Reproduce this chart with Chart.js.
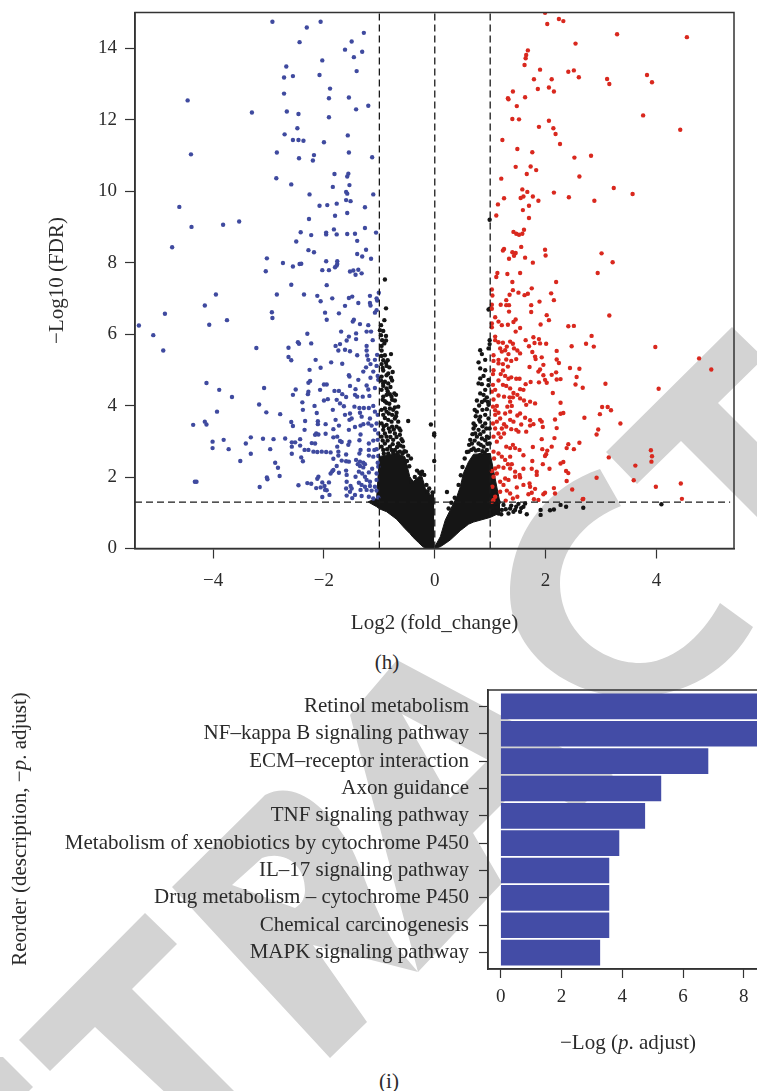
<!DOCTYPE html>
<html>
<head>
<meta charset="utf-8">
<script src="https://cdn.jsdelivr.net/npm/chart.js@4"></script>
<style>
html, body { margin: 0; padding: 0; width: 757px; height: 1091px; overflow: hidden; background: #fff; }
canvas, svg { position: absolute; left: 0; }
.cap { position: absolute; font: 21px "Liberation Serif", serif; color: #2b2b2b; transform: translateX(-50%); }
</style>
</head>
<body>
<svg width="757" height="1091" style="top:0">
  <g fill="#d3d3d3" fill-rule="evenodd">
    <path d="M0,1057 L3,1057 L33,1087 L29,1091 L0,1091 Z"/>
    <path d="M19,1040 L145,913 L177,944 L132,989 L240,1097 L170,1097 L95,1027 L50,1071 Z"/>
    <path d="M172,887 L265,795 C295,780 325,805 350,845 C365,875 372,905 395,945 L418,972 L313,945 L367,1022 L330,1058 Z M232,885 L262,858 C285,850 305,865 305,890 C305,900 300,905 295,908 Z"/>
    <path d="M397,660 L613,775 L579,809 L526,780 L473,833 L502,883 L418,972 L350,715 Z M402,714 L488,760 L450,798 Z"/>
    <path d="M600,469 C540,490 510,540 510,593 C510,650 565,697 632,697 C685,697 730,670 753,627 L720,603 C700,640 670,663 640,663 C600,663 560,630 560,583 C560,550 585,520 621,506 Z"/>
    <path d="M606,452 L732,327 L764,358 L718,403 L830,515 L830,590 L681,441 L637,484 Z"/>
  </g>
</svg>
<canvas id="volcano" width="757" height="640" style="top:0"></canvas>
<canvas id="bars" width="800" height="380" style="top:680px"></canvas>
<div class="cap" style="left:387px;top:650px">(h)</div>
<div class="cap" style="left:389px;top:1069px">(i)</div>
<script>
// volcano values as [log2 fold change, -log10 FDR]
const bluePoints = [
[-2.93,14.74],[-2.31,14.58],[-2.06,14.74],[-1.28,14.43],[-2.44,14.17],[-1.50,14.19],[-1.62,13.96],[-1.31,13.90],[-1.46,13.75],[-2.03,13.66],
[-2.68,13.49],[-1.41,13.36],[-2.72,13.18],[-2.56,13.22],[-2.08,13.25],[-1.89,12.87],[-2.72,12.73],[-1.91,12.60],[-1.55,12.62],[-4.46,12.54],
[-1.42,12.29],[-1.20,12.39],[-3.30,12.20],[-2.67,12.23],[-2.46,12.16],[-1.91,12.07],[-2.48,11.76],[-2.71,11.59],[-1.57,11.56],[-2.56,11.43],
[-2.46,11.43],[-2.37,11.41],[-2.00,11.37],[-2.85,11.08],[-1.55,11.08],[-2.18,11.01],[-4.40,11.03],[-1.13,10.95],[-2.45,10.92],[-2.20,10.86],
[-1.81,10.48],[-1.56,10.49],[-1.58,10.41],[-2.86,10.36],[-2.59,10.19],[-1.54,10.17],[-1.84,10.12],[-1.60,9.98],[-1.58,9.93],[-2.26,9.91],
[-1.11,9.91],[-1.60,9.75],[-1.52,9.72],[-1.77,9.65],[-1.94,9.61],[-2.08,9.59],[-4.61,9.56],[-1.26,9.55],[-1.58,9.39],[-1.80,9.31],
[-2.27,9.22],[-3.53,9.15],[-3.82,9.06],[-4.39,9.00],[-1.26,8.97],[-1.82,8.93],[-2.42,8.85],[-1.96,8.84],[-1.96,8.79],[-1.77,8.79],
[-1.58,8.80],[-1.44,8.81],[-1.06,8.84],[-2.23,8.77],[-1.40,8.61],[-2.50,8.59],[-4.74,8.43],[-1.24,8.36],[-2.28,8.35],[-2.18,8.29],
[-1.40,8.24],[-1.31,8.17],[-1.15,8.11],[-3.03,8.12],[-1.96,8.04],[-1.76,8.04],[-2.74,7.99],[-2.44,7.96],[-2.41,7.97],[-1.76,7.96],
[-1.77,7.92],[-1.80,7.87],[-2.56,7.89],[-3.05,7.76],[-2.03,7.79],[-1.91,7.79],[-1.53,7.75],[-1.47,7.78],[-1.38,7.80],[-1.43,7.66],
[-1.32,7.70],[-2.59,7.38],[-1.95,7.37],
[-3.95,7.11],[-2.85,7.11],[-2.36,7.11],[-2.12,7.07],[-1.85,7.00],[-1.55,7.01],[-1.49,7.05],[-1.17,7.07],[-1.01,7.16],[-1.05,7.00],
[-1.04,6.94],[-2.06,6.92],[-1.38,6.87],[-1.17,6.87],[-1.16,6.80],[-1.62,6.79],[-4.15,6.80],[-4.87,6.57],[-2.94,6.61],[-2.93,6.45],
[-1.98,6.60],[-1.73,6.58],[-1.95,6.40],[-1.05,6.67],[-1.08,6.60],[-1.46,6.40],[-1.48,6.35],[-1.35,6.28],[-3.75,6.39],[-4.07,6.26],
[-5.34,6.24],[-1.20,6.25],[-5.08,5.97],[-1.69,6.07],[-1.23,6.07],[-1.15,6.07],[-2.30,6.01],[-1.42,6.02],[-1.42,5.86],[-1.55,5.93],
[-1.59,5.82],[-1.12,5.83],[-2.47,5.77],[-2.45,5.73],[-2.23,5.74],[-1.71,5.72],[-1.79,5.67],[-1.23,5.67],[-2.64,5.62],[-3.22,5.61],
[-4.90,5.54],[-1.74,5.54],[-1.62,5.56],[-1.53,5.52],[-1.23,5.54],[-1.40,5.41],[-1.22,5.40],[-1.04,5.42],[-2.64,5.36],[-2.59,5.27],
[-2.15,5.28],[-1.87,5.21],[-1.67,5.17],[-1.20,5.28],[-1.16,5.16],[-1.08,5.28],[-1.05,5.11],[-2.06,5.06],[-2.26,5.00],[-1.24,5.07],
[-1.29,4.95],[-1.11,4.95],[-1.55,4.85],[-1.54,4.81],[-1.16,4.78],[-1.03,4.83],[-1.38,4.72],[-2.25,4.69],[-2.28,4.64],[-4.12,4.63],
[-1.02,4.72],[-2.00,4.59],[-1.95,4.59],[-1.53,4.55],[-1.23,4.56],[-1.20,4.45],[-1.43,4.46],[-1.08,4.49],[-3.08,4.49],[-2.51,4.45],
[-2.07,4.44],[-3.89,4.44],[-1.81,4.41],[-1.73,4.41],[-2.28,4.39],[-2.29,4.32],[-2.56,4.30],[-1.67,4.32],[-1.44,4.30],[-1.60,4.24],
[-1.40,4.25],[-1.30,4.25],[-1.18,4.27],[-3.66,4.24],[-1.93,4.18],[-2.00,4.14],[-1.77,4.16],[-2.39,4.09],[-1.71,4.06],[-3.17,4.03],
[-2.17,3.99],[-1.64,3.98],[-1.45,3.97],[-1.36,3.93],[-1.28,3.93],[-1.19,3.93],[-1.11,3.99],[-2.38,3.88],[-3.93,3.83],[-3.04,3.81],
[-1.84,3.88],[-2.13,3.79],[-2.79,3.76],[-1.53,3.78],[-1.35,3.80],[-1.08,3.83],[-1.03,3.74],[-1.62,3.74],[-1.50,3.64],[-1.54,3.60],
[-1.79,3.60],[-1.32,3.69],[-1.17,3.64],[-2.34,3.57],[-2.11,3.56],[-2.59,3.54],[-4.15,3.55],[-2.11,3.48],[-1.97,3.48],[-1.73,3.44],
[-4.12,3.47],[-4.36,3.46],[-2.56,3.43],[-1.20,3.50],[-1.29,3.48],[-1.44,3.40],[-1.34,3.44],[-1.14,3.44],[-1.05,3.50],[-1.55,3.32],
[-2.35,3.32],[-1.83,3.34],[-1.08,3.32],[-2.14,3.22],[-2.16,3.18],[-2.10,3.19],[-1.97,3.21],[-1.34,3.19],[-1.02,3.22],[-3.32,3.11],
[-3.10,3.07],[-2.91,3.06],[-2.70,3.08],[-2.43,3.06],[-3.81,3.04],[-1.76,3.13],[-1.83,3.11],[-1.71,3.01],[-1.68,2.98],[-4.01,2.99],
[-2.58,2.97],[-2.52,2.97],[-3.41,2.94],[-2.22,2.95],[-2.16,2.94],[-1.54,2.99],[-1.36,3.03],[-1.19,2.94],[-1.11,3.02],[-1.03,3.04],
[-2.43,2.88],[-2.58,2.85],[-4.01,2.81],[-1.56,2.90],[-1.76,2.85],[-3.72,2.78],[-2.97,2.78],[-2.35,2.76],[-2.28,2.76],[-2.19,2.71],
[-2.12,2.70],[-2.04,2.71],[-1.96,2.70],[-1.88,2.69],[-1.74,2.71],[-1.34,2.76],[-1.36,2.66],[-1.19,2.76],[-1.09,2.76],[-1.05,2.78],
[-3.32,2.65],[-2.58,2.65],[-1.74,2.60],[-1.60,2.63],[-1.19,2.60],[-1.11,2.57],[-1.02,2.59],[-2.41,2.55],[-2.38,2.44],[-3.51,2.45],
[-1.83,2.51],[-1.68,2.46],[-1.60,2.44],[-1.55,2.43],[-1.42,2.48],[-1.35,2.43],[-1.29,2.40],[-1.03,2.40],[-2.88,2.40],[-1.39,2.36],
[-1.77,2.31],[-2.83,2.26],[-1.35,2.31],[-1.26,2.36],[-1.13,2.23],[-1.02,2.29],[-1.29,2.27],[-1.83,2.20],[-1.85,2.16],[-1.88,2.10],
[-1.73,2.12],[-1.60,2.18],[-1.59,2.06],[-1.37,2.15],[-1.31,2.10],[-1.19,2.13],[-1.05,2.10],[-2.80,2.03],[-3.03,1.99],[-3.02,1.94],
[-2.10,2.01],[-2.12,1.95],[-4.33,1.87],[-4.30,1.87],[-1.59,1.87],[-1.43,2.01],[-1.26,2.01],[-1.23,1.92],[-1.17,1.87],[-1.05,1.92],
[-2.30,1.83],[-2.23,1.81],[-2.03,1.85],[-1.91,1.85],[-3.16,1.72],[-2.46,1.77],[-2.14,1.69],[-2.06,1.71],[-1.99,1.75],[-1.98,1.64],
[-1.95,1.63],[-1.52,1.75],[-1.37,1.84],[-1.32,1.78],[-1.26,1.73],[-1.17,1.75],[-1.08,1.73],[-1.60,1.68],[-1.50,1.68],[-1.34,1.64],
[-1.23,1.64],[-1.14,1.62],[-1.05,1.62],[-1.59,1.48],[-1.90,1.50],[-2.03,1.44],[-1.49,1.41],[-1.44,1.50],[-1.32,1.47],[-1.19,1.45],
[-1.11,1.40],[-1.02,1.43],[-1.53,1.59]
];
const redPoints = [
[1.99,14.99],[2.24,14.82],[2.32,14.76],[2.03,14.68],[3.29,14.39],[4.55,14.31],[2.54,14.13],[1.68,13.94],[1.65,13.81],[1.64,13.72],
[1.62,13.53],[1.90,13.40],[2.41,13.34],[2.51,13.38],[2.60,13.19],[1.79,13.13],[2.11,13.13],[3.11,13.14],[3.83,13.25],[3.92,13.05],
[3.15,13.00],[1.86,12.86],[2.06,12.90],[2.15,12.79],[1.41,12.79],[1.63,12.63],[1.32,12.60],[1.33,12.57],[1.48,12.38],[3.76,12.12],
[1.40,12.02],[1.52,12.01],[2.06,11.97],[1.88,11.80],[2.14,11.76],[4.43,11.72],[2.18,11.60],[1.22,11.43],[2.26,11.32],[1.49,11.18],
[1.76,11.09],[2.82,10.99],[2.52,10.94],[1.46,10.68],[1.73,10.69],[1.83,10.59],[1.66,10.48],[2.61,10.41],[1.20,10.35],[3.23,10.09],
[1.58,10.05],[1.67,9.98],[2.15,9.96],[3.57,9.92],[1.60,9.85],[1.55,9.81],[1.77,9.85],[2.42,9.83],[1.25,9.80],[2.88,9.73],
[1.87,9.73],[1.14,9.63],[1.70,9.59],[1.59,9.47],[1.11,9.32],[1.70,9.25],[1.61,8.92],[1.42,8.86],[1.47,8.81],[1.52,8.78],
[1.58,8.81],[1.56,8.44],[1.25,8.38],[1.23,8.34],[1.99,8.36],[1.40,8.29],[1.46,8.27],[1.43,8.19],[2.00,8.20],[3.01,8.26],
[1.34,8.11],[1.63,8.14],[1.77,8.00],[3.21,8.01],[1.13,7.71],[1.31,7.68],[1.54,7.71],[2.94,7.71],[1.11,7.60],[1.40,7.46],
[2.19,7.46],[1.75,7.28],[1.03,7.25],[1.41,7.23],
[1.04,7.08],[1.35,7.10],[1.51,7.16],[1.62,7.09],[1.68,7.13],[2.10,7.14],[2.15,6.95],[1.89,6.91],[1.29,6.95],[1.19,6.82],
[1.29,6.81],[1.34,6.81],[1.74,6.81],[1.03,6.82],[1.03,6.71],[1.34,6.63],[1.74,6.62],[2.02,6.53],[2.06,6.39],[3.15,6.52],
[1.09,6.47],[1.15,6.35],[1.46,6.41],[1.42,6.34],[1.32,6.26],[1.21,6.25],[1.03,6.30],[1.03,6.19],[1.91,6.27],[2.41,6.22],
[2.51,6.23],[1.54,6.17],[1.46,6.07],[2.83,5.95],[1.09,5.93],[1.09,5.83],[1.15,5.77],[1.23,5.76],[1.36,5.79],[1.41,5.73],
[1.64,5.83],[1.78,5.91],[1.88,5.86],[1.80,5.75],[1.90,5.74],[2.01,5.73],[2.73,5.73],[2.47,5.66],[2.87,5.65],[3.98,5.64],
[1.70,5.66],[1.30,5.65],[1.18,5.60],[1.43,5.60],[1.49,5.54],[1.76,5.50],[2.20,5.53],[1.21,5.51],[1.27,5.55],[1.06,5.41],
[1.54,5.46],[1.33,5.44],[1.81,5.37],[1.93,5.35],[1.82,5.30],[4.77,5.32],[2.20,5.29],[2.24,5.19],[1.15,5.28],[1.29,5.29],
[1.47,5.30],[1.38,5.25],[1.06,5.25],[1.15,5.18],[1.23,5.16],[1.96,5.14],[1.32,5.09],[1.71,5.08],[2.44,5.05],[2.61,5.03],
[4.99,5.01],[1.90,5.01],[1.06,4.99],[1.23,4.98],[1.87,4.95],[2.19,4.93],[1.05,4.88],[1.19,4.88],[1.96,4.85],[2.11,4.86],
[2.56,4.80],[1.27,4.83],[1.38,4.79],[1.47,4.75],[1.53,4.75],[1.33,4.75],[2.20,4.73],[2.27,4.74],[1.99,4.72],[1.15,4.70],
[1.73,4.66],[1.88,4.65],[2.02,4.64],[1.64,4.60],[3.08,4.61],[1.23,4.58],[1.05,4.58],[1.29,4.55],[2.54,4.59],[2.67,4.50],
[4.04,4.47],[1.36,4.48],[1.54,4.46],[1.60,4.44],[1.03,4.39],[1.09,4.44],[1.42,4.35],[2.13,4.35],[1.49,4.30],[1.15,4.28],
[1.25,4.25],[1.35,4.23],[1.41,4.23],[1.06,4.17],[1.54,4.20],[1.61,4.14],[1.36,4.11],[1.72,4.11],[1.81,4.06],[2.27,4.08],
[1.65,4.02],[1.12,3.99],[1.31,3.97],[1.39,3.99],[1.05,3.97],[3.02,3.96],[3.12,3.96],[3.18,3.87],[1.09,3.87],[1.15,3.80],
[1.36,3.83],[1.27,3.78],[2.27,3.77],[2.32,3.79],[2.98,3.76],[1.54,3.78],[1.49,3.72],[1.09,3.74],[1.63,3.66],[2.70,3.66],
[1.18,3.64],[1.36,3.60],[1.42,3.55],[1.72,3.59],[1.90,3.60],[1.93,3.55],[2.17,3.61],[1.12,3.55],[3.35,3.50],[1.05,3.50],
[1.25,3.48],[1.56,3.47],[1.72,3.44],[1.78,3.48],[1.09,3.36],[1.21,3.36],[1.29,3.41],[1.95,3.40],[2.20,3.37],[2.95,3.33],
[1.38,3.34],[1.47,3.32],[1.51,3.27],[1.65,3.27],[1.15,3.22],[1.25,3.22],[2.92,3.19],[1.06,3.13],[1.19,3.11],[1.93,3.06],
[2.16,3.09],[2.61,2.96],[2.41,2.92],[1.12,2.99],[1.29,2.85],[1.41,2.90],[1.77,2.84],[2.11,2.85],[2.38,2.81],[1.36,2.81],
[1.45,2.81],[1.53,2.76],[1.94,2.78],[2.03,2.74],[2.51,2.78],[3.90,2.75],[1.06,2.71],[2.01,2.64],[1.60,2.61],[3.92,2.58],
[1.15,2.66],[1.21,2.57],[1.99,2.59],[3.14,2.55],[1.27,2.48],[1.36,2.57],[1.07,2.52],[3.91,2.43],[1.76,2.45],[2.32,2.42],
[2.27,2.38],[1.95,2.36],[1.32,2.36],[1.39,2.36],[1.15,2.29],[3.62,2.32],[1.24,2.26],[1.09,2.24],[1.60,2.23],[1.75,2.23],
[2.07,2.23],[1.36,2.24],[1.45,2.15],[2.37,2.17],[2.41,2.11],[1.84,2.15],[1.03,2.17],[1.12,2.10],[1.84,2.06],[1.53,2.06],
[1.45,2.01],[1.06,2.01],[1.27,1.96],[2.92,1.98],[1.54,1.99],[3.59,1.91],[2.38,1.89],[1.18,1.87],[1.33,1.92],[1.60,1.78],
[1.71,1.82],[4.44,1.82],[1.72,1.73],[3.99,1.73],[1.04,1.73],[1.24,1.78],[1.81,1.67],[2.15,1.69],[2.48,1.65],[1.30,1.62],
[1.18,1.59],[1.75,1.56],[1.69,1.52],[1.99,1.56],[2.17,1.54],[1.96,1.52],[1.48,1.71],[1.36,1.54],[1.09,1.45],[1.49,1.45],
[1.41,1.40],[1.06,1.36],[2.68,1.39],[2.67,1.38],[4.46,1.39],[1.79,1.38],[1.87,1.36],[1.28,1.34],[1.03,1.31]
];
const blackPoints = [
[-0.90,7.53],[-0.88,6.72],[-0.91,6.39],[-0.97,6.25],[-0.93,6.09],[-0.99,6.11],[-0.97,5.97],[-0.88,5.95],[-0.95,5.83],[-0.88,5.82],
[-0.91,5.74],[-0.96,5.67],[-0.96,5.54],[-0.79,5.44],[-0.96,5.39],[-0.90,5.41],[-0.85,5.27],[-0.93,5.27],[-0.96,5.16],[-0.87,5.11],
[-0.82,5.07],[-0.93,4.98],[-0.76,4.94],[-0.87,4.85],[-0.96,4.81],[-0.79,4.78],[-0.77,4.70],[-0.90,4.67],[-0.84,4.62],[-0.93,4.55],
[-0.87,4.48],[-0.96,4.44],[-0.73,4.34],[-0.81,4.32],[-0.87,4.30],[-0.70,4.30],[-0.93,4.25],[-0.77,4.16],[-0.72,4.14],[-0.94,4.16],
[-0.87,4.08],[-0.66,3.97],[-0.90,3.92],[-0.81,3.92],[-0.75,3.88],[-0.87,3.83],[-0.69,3.80],[-0.93,3.74],[-0.77,3.74],[-0.72,3.64],
[-0.84,3.60],[-0.48,3.57],[-0.07,3.47],[-0.01,3.22],[-0.01,3.17],[-0.01,2.45],[-0.96,3.50],[-0.87,3.46],[-0.77,3.41],[-0.69,3.41],
[-0.64,3.36],[-0.93,3.32],[-0.81,3.27],[-0.72,3.22],[-0.63,3.18],[-0.60,3.06],[-0.87,3.13],[-0.96,3.13],[-0.75,3.04],[-0.66,2.94],
[-0.57,2.85],[-0.90,2.94],[-0.81,2.85],[-0.93,2.76],[-0.72,2.76],[-0.52,2.71],[-0.43,2.52],[-0.63,2.71],[-0.84,2.66],[-0.23,2.15],
[-0.28,2.12],[-0.19,2.06],[-0.42,1.87],[-0.13,1.59],[-0.04,1.57],
[-0.97,4.70],[-0.85,4.40],[-0.78,4.25],[-0.90,4.12],[-0.82,4.05],[-0.72,3.95],[-0.96,3.88],[-0.83,3.78],[-0.70,3.70],[-0.90,3.65],
[-0.78,3.55],[-0.66,3.55],[-0.92,3.42],[-0.83,3.36],[-0.74,3.33],[-0.62,3.30],[-0.90,3.22],[-0.80,3.12],[-0.69,3.12],[-0.58,3.00],
[-0.94,3.02],[-0.85,3.02],[-0.76,2.92],[-0.68,2.84],[-0.62,2.88],[-0.96,2.85],[-0.86,2.78],[-0.78,2.76],[-0.55,2.72],[-0.48,2.60],
[-0.92,2.66],[-0.75,2.68],[-0.67,2.68],[-0.58,2.66],[-0.50,2.45],[-0.46,2.30],[-0.36,2.00],[-0.32,2.18],[-0.25,2.08],[-0.15,1.78],
[-0.10,1.68],[-0.94,5.05],[-0.88,5.20],[-0.84,4.90],[-0.93,4.62],[-0.80,4.52],
[0.99,9.20],[0.97,6.69],[1.00,6.72],[0.99,5.72],[0.97,5.60],[0.99,5.83],[0.82,5.55],[0.85,5.44],[0.91,5.28],[0.79,5.21],
[0.82,5.04],[0.91,4.99],[0.88,4.83],[0.82,4.76],[0.97,4.72],[0.79,4.62],[0.85,4.60],[0.91,4.44],[0.97,4.57],[0.88,4.30],
[0.94,4.23],[0.82,4.34],[0.97,4.02],[0.76,4.14],[0.72,3.88],[0.76,3.83],[0.91,3.74],[0.82,3.69],[0.97,3.64],[0.70,3.50],
[0.82,3.55],[0.91,3.50],[0.99,3.36],[0.70,3.36],[0.79,3.32],[0.88,3.27],[0.64,3.04],[0.76,3.13],[0.85,3.08],[0.94,3.13],
[0.99,2.94],[0.67,2.94],[0.79,2.94],[0.88,2.85],[0.70,2.80],[0.94,2.76],[0.61,2.71],[0.79,2.76],[0.82,2.62],[0.22,1.58],
[0.74,3.70],[0.80,3.60],[0.73,3.44],[0.86,3.42],[0.93,3.36],[0.68,3.20],[0.73,3.22],[0.82,3.20],[0.91,3.03],[0.97,3.10],
[0.62,2.90],[0.72,3.02],[0.83,2.90],[0.95,2.93],[0.58,2.70],[0.66,2.76],[0.74,2.74],[0.86,2.72],[0.90,2.68],[0.54,2.52],
[0.50,2.28],[0.47,2.05],[0.43,1.78],[0.36,1.42],[0.30,1.28],[0.25,1.12],[0.96,4.10],[0.90,4.15],[0.85,4.10],[0.80,4.00],
[0.94,3.90],[0.86,3.88],
[1.15,1.31],[1.21,1.08],[1.36,1.12],[1.51,1.25],[1.60,1.17],[1.66,0.96],[1.54,1.03],[1.42,1.03],[1.33,0.98],[1.24,1.22],
[1.09,1.26],[1.06,1.03],[1.15,0.98],[1.00,0.98],[1.47,1.17],[1.63,1.26],[1.91,1.08],[1.91,0.94],[2.08,1.07],[2.15,1.09],
[2.27,1.22],[2.37,1.17],[2.68,1.14],[4.09,1.24],[1.28,1.10],[1.38,1.20],[1.45,1.08],[1.56,1.13],[1.12,1.15],[1.20,0.96]
];
// edges of the solid black mass, same x on both edges of a lobe
const leftLobeX = [-1.20,-1.05,-1.00,-0.87,-0.69,-0.54,-0.45,-0.39,-0.29,-0.23,-0.17,-0.08,-0.01];
const leftLobeTop = [1.31,1.40,2.57,2.62,2.66,2.57,2.01,1.87,2.01,2.01,1.68,1.50,1.54];
const leftLobeLow = [1.30,1.17,1.11,1.03,0.82,0.56,0.42,0.31,0.16,0.07,0.00,0.00,0.00];
const rightLobeX = [0.00,0.10,0.19,0.28,0.40,0.46,0.52,0.61,0.70,1.00,1.18];
const rightLobeTop = [0.05,0.33,0.80,1.08,1.46,1.73,2.12,2.43,2.64,2.66,1.25];
const rightLobeLow = [0.00,0.05,0.14,0.24,0.41,0.50,0.57,0.68,0.74,0.87,1.00];

const xTicks = [-4, -2, 0, 2, 4];
const yTicks = [0, 2, 4, 6, 8, 10, 12, 14];
const foldLines = [-1, 0, 1];
const fdrLine = 1.3;
const fdrLineEnds = [-5.41, 5.33];

const categories = ['Retinol metabolism', 'NF\u2013kappa B signaling pathway', 'ECM\u2013receptor interaction', 'Axon guidance',
  'TNF signaling pathway', 'Metabolism of xenobiotics by cytochrome P450', 'IL\u201317 signaling pathway',
  'Drug metabolism \u2013 cytochrome P450', 'Chemical carcinogenesis', 'MAPK signaling pathway'];
const adjustValues = [9.2, 9.2, 6.82, 5.27, 4.74, 3.89, 3.56, 3.56, 3.56, 3.26];
const barTicks = [0, 2, 4, 6, 8];

const serif = '"Liberation Serif", serif';
const ink = '#2b2b2b';
const toXY = p => ({ x: p[0], y: p[1] });
const minus = v => v < 0 ? '\u2212' + (-v) : String(v);
const noPad = s => { s.paddingTop = 0; s.paddingBottom = 0; s.paddingLeft = 0; s.paddingRight = 0; };

// box round the plot
const framePlugin = {
  id: 'frame',
  afterDraw(chart) {
    const a = chart.chartArea, c = chart.ctx;
    c.save();
    c.strokeStyle = '#333';
    c.lineWidth = 1.5;
    c.strokeRect(a.left, a.top, a.right - a.left, a.bottom - a.top);
    c.restore();
  }
};

// axis titles with an italic p, chart.js titles can only take one font
function drawRuns(c, runs, x, y, angle) {
  c.save();
  c.translate(x, y);
  c.rotate(angle);
  c.fillStyle = ink;
  c.textBaseline = 'middle';
  let total = 0;
  runs.forEach(r => { c.font = r[1] + ' 21px ' + serif; total += c.measureText(r[0]).width; });
  let pos = -total / 2;
  runs.forEach(r => {
    c.font = r[1] + ' 21px ' + serif;
    c.fillText(r[0], pos, 0);
    pos += c.measureText(r[0]).width;
  });
  c.restore();
}
const barTitles = {
  id: 'barTitles',
  afterDraw(chart) {
    drawRuns(chart.ctx, [['\u2212Log (', 'normal'], ['p', 'italic'], ['. adjust)', 'normal']], 628, 363, 0);
    drawRuns(chart.ctx, [['Reorder (description, \u2212', 'normal'], ['p', 'italic'], ['. adjust)', 'normal']], 20, 149, -Math.PI / 2);
  }
};

const tickFont = { family: serif, size: 19 };
const labelFont = { family: serif, size: 21 };
function refLine(points) {
  return { data: points, showLine: true, pointRadius: 0, borderColor: '#1a1a1a', borderWidth: 1.3, borderDash: [7, 4], order: 0 };
}
function foldLine(x) {
  return refLine([{ x: x, y: 0 }, { x: x, y: 15 }]);
}
function dots(points, color, order) {
  return { data: points.map(toXY), backgroundColor: color, borderWidth: 0, pointRadius: 2.2, order: order };
}
function edge(xs, ys, fill) {
  return { data: xs.map((x, i) => ({ x: x, y: ys[i] })), showLine: true, pointRadius: 0, borderColor: '#151515', borderWidth: 1,
    backgroundColor: '#151515', fill: fill, order: 4 };
}

new Chart(document.getElementById('volcano'), {
  type: 'scatter',
  data: {
    datasets: [
      ...foldLines.map(foldLine),
      refLine(fdrLineEnds.map(x => ({ x: x, y: fdrLine }))),
      dots(bluePoints, '#3f4a9f', 1),
      dots(redPoints, '#d9281e', 1),
      dots(blackPoints, '#151515', 2),
      edge(leftLobeX, leftLobeTop, '+1'),
      edge(leftLobeX, leftLobeLow, false),
      edge(rightLobeX, rightLobeTop, '+1'),
      edge(rightLobeX, rightLobeLow, false)
    ]
  },
  options: {
    responsive: false,
    animation: false,
    layout: { autoPadding: false, padding: { left: 0, right: 23, top: 12.5, bottom: 0 } },
    plugins: { legend: { display: false }, tooltip: { enabled: false } },
    scales: {
      x: {
        type: 'linear', min: -5.41, max: 5.40,
        afterBuildTicks: s => { s.ticks = xTicks.map(v => ({ value: v })); },
        afterFit: s => { s.height = 91.5; noPad(s); },
        grid: { drawOnChartArea: false, tickLength: 10, tickColor: '#333', tickWidth: 1.2 },
        border: { color: '#333', width: 1.5 },
        ticks: { callback: minus, font: tickFont, color: ink, padding: 11, maxRotation: 0 },
        title: { display: true, text: 'Log2 (fold_change)', font: labelFont, color: ink, padding: { top: 0, bottom: 4 } }
      },
      y: {
        type: 'linear', min: 0, max: 15,
        afterBuildTicks: s => { s.ticks = yTicks.map(v => ({ value: v })); },
        afterFit: s => { s.width = 135; noPad(s); },
        grid: { drawOnChartArea: false, tickLength: 10, tickColor: '#333', tickWidth: 1.2 },
        border: { color: '#333', width: 1.5 },
        ticks: { font: tickFont, color: ink, padding: 8 },
        title: { display: true, text: '\u2212Log10 (FDR)', font: labelFont, color: ink, padding: { top: 45, bottom: 0 } }
      }
    }
  },
  plugins: [framePlugin]
});

new Chart(document.getElementById('bars'), {
  type: 'bar',
  data: {
    datasets: [{
      data: adjustValues.map((v, i) => ({ x: v, y: i })),
      backgroundColor: '#434ca6',
      barThickness: 25
    }]
  },
  options: {
    indexAxis: 'y',
    responsive: false,
    animation: false,
    layout: { autoPadding: false, padding: { left: 0, right: 10, top: 10, bottom: 0 } },
    plugins: { legend: { display: false }, tooltip: { enabled: false } },
    scales: {
      x: {
        type: 'linear', min: -0.42, max: 9.52,
        afterBuildTicks: s => { s.ticks = barTicks.map(v => ({ value: v })); },
        afterFit: s => { s.height = 91; noPad(s); },
        grid: { drawOnChartArea: false, tickLength: 9, tickColor: '#333', tickWidth: 1.2 },
        border: { color: '#333', width: 1.5 },
        ticks: { font: tickFont, color: ink, padding: 8, maxRotation: 0 }
      },
      y: {
        type: 'linear', reverse: true, min: -0.6, max: 9.6, offset: false,
        afterBuildTicks: s => { s.ticks = categories.map((c, i) => ({ value: i })); },
        afterFit: s => { s.width = 488; noPad(s); },
        grid: { offset: false, drawOnChartArea: false, tickLength: 9, tickColor: '#333', tickWidth: 1.2 },
        border: { color: '#333', width: 1.5 },
        ticks: { callback: v => categories[v], font: labelFont, color: ink, padding: 10, autoSkip: false }
      }
    }
  },
  plugins: [framePlugin, barTitles]
});
</script>
</body>
</html>
